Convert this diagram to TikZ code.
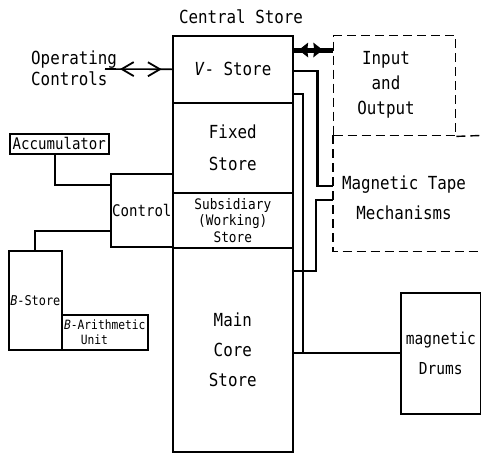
\documentclass[tikz,border=0pt]{standalone}
\usepackage{fontspec}
\setmainfont[FakeStretch=0.88]{DejaVu Sans Mono}
\tikzset{
  box/.style={draw, line width=1.6pt, inner sep=0pt, anchor=north west, align=center},
  dsh/.style={draw, line width=1.4pt, dash pattern=on 9pt off 5pt},
  lbl/.style={inner sep=0pt, align=center},
  thk/.style={line width=2.6pt},
  med/.style={line width=1.8pt},
  fA/.style={font=\fontsize{18}{30}\selectfont},
  fB/.style={font=\fontsize{16}{30}\selectfont},
  fC/.style={font=\fontsize{14.5}{16.5}\selectfont},
  fD/.style={font=\fontsize{13.5}{15}\selectfont},
  fE/.style={font=\fontsize{12.8}{15}\selectfont},
  chev/.style={line width=1.8pt, line join=miter},
}
\begin{document}
\begin{tikzpicture}[x=1pt,y=-1pt]
\useasboundingbox (0,0) rectangle (481,455);
% central store
\node[lbl, fA] (cs) at (241,17) {Central Store};
\node[box, minimum width=120pt, minimum height=67pt, fA] (vstore) at (172,35) {\textit{V}- Store};
\node[box, minimum width=120pt, minimum height=90pt, font=\fontsize{18}{32}\selectfont] (fixed) at (172,102) {Fixed\\Store};
\node[box, minimum width=120pt, minimum height=55pt, fC] (subs) at (172,192) {Subsidiary\\(Working)\\Store};
\node[box, minimum width=120pt, minimum height=204pt, fA] (main) at (172,247) {Main\\Core\\Store};
% left side
\node[box, minimum width=62pt, minimum height=73pt, fB] (control) at (110,173) {Control};
\node[box, minimum width=99pt, minimum height=20pt, fB] (accum) at (9,133) {Accumulator};
\node[box, minimum width=53pt, minimum height=99pt, fD] (bstore) at (8,250) {\textit{B}-Store};
\node[box, minimum width=86pt, minimum height=35pt, fE, align=left] (barith) at (61,314) {\textit{B}-Arithmetic\\\hspace*{1.3em}Unit};
% operating controls
\node[inner sep=0pt, anchor=west, align=left, font=\fontsize{18}{21}\selectfont] (opc) at (31,68) {Operating\\Controls};
\coordinate (opend) at (105,69);
\draw[line width=1.6pt] (opend) -- (vstore.west)
   coordinate[pos=0.25] (oa) coordinate[pos=0.82] (oc);
\draw[chev] ([shift={(12,-7)}]oa) -- (oa) -- ([shift={(12,7)}]oa);
\draw[chev] ([shift={(-12,-7)}]oc) -- (oc) -- ([shift={(-12,7)}]oc);
% input and output, tape
\node[box, dsh, minimum width=122pt, minimum height=100pt] (io) at (333,35) {};
\node[lbl, font=\fontsize{18}{25}\selectfont] (iotext) at (386,85) {Input\\ and\\Output};
\node[inner sep=0pt, anchor=north west, minimum width=160pt, minimum height=116pt] (tape) at (333,135) {};
\draw[dsh] (io.south east) -- (tape.north east);
\draw[dsh] (tape.north west) -- (tape.south west) -- (tape.south east);
\node[lbl, fA] (tapetext) at (404,198) {Magnetic Tape\\Mechanisms};
% drums
\node[box, minimum width=80pt, minimum height=121pt, font=\fontsize{16.5}{30}\selectfont] (drums) at (400,292) {magnetic\\Drums};
% connectors
\draw[line width=5pt] ([yshift=-15pt]vstore.north east) -- ([yshift=-15pt]io.north west)
   coordinate[pos=0.13] (ta) coordinate[pos=0.74] (tc);
\fill (ta) -- ([shift={(9.5,-7.5)}]ta) -- ([shift={(8.5,0)}]ta) -- ([shift={(9.5,7.5)}]ta) -- cycle;
\fill (tc) -- ([shift={(-9.5,-7.5)}]tc) -- ([shift={(-8.5,0)}]tc) -- ([shift={(-9.5,7.5)}]tc) -- cycle;
\draw[thk] ([yshift=-36pt]vstore.north east) -- ++(24,0) |- ([yshift=-51pt]tape.north west);
\draw[thk] ([yshift=-65pt]tape.north west) -- ++(-17,0) |- ([yshift=-24pt]main.north east);
\draw[med] ([yshift=-59pt]vstore.north east) -- ++(9,0) coordinate (c2) -- (c2 |- drums.west);
\draw[med] (main.east |- drums.west) -- (drums.west);
\draw[med] ([xshift=-4.5pt]accum.south) |- ([yshift=-12pt]control.north west);
\draw[med] ([yshift=-58pt]control.north west) -| (bstore.north);
\end{tikzpicture}
\end{document}
